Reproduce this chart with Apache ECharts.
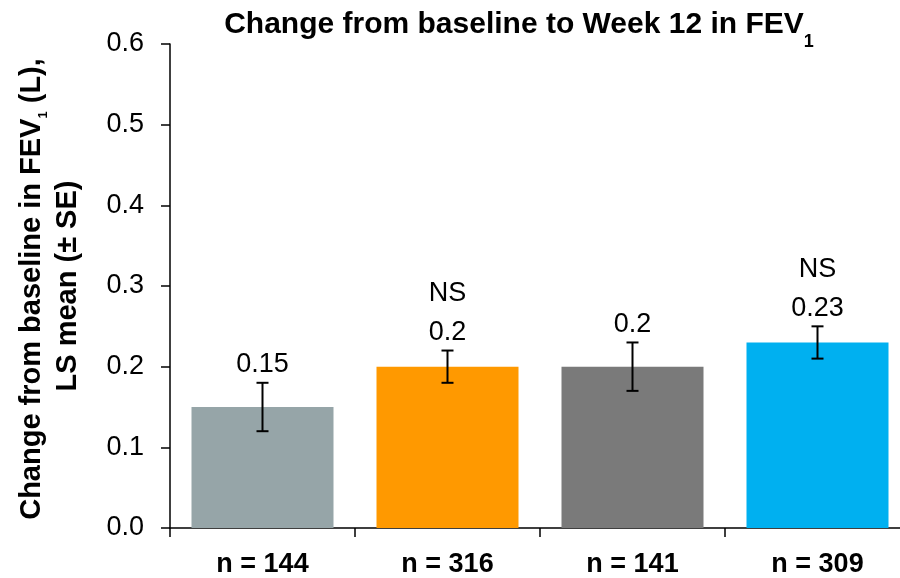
<!DOCTYPE html>
<html>
<head>
<meta charset="utf-8">
<script src="https://cdn.jsdelivr.net/npm/echarts@6/dist/echarts.min.js"></script>
<style>html,body{margin:0;padding:0;background:#fff;overflow:hidden;}#chart{width:910px;height:578px;}</style>
</head>
<body>
<div id="chart"></div>
<script>
const categories = ['n = 144', 'n = 316', 'n = 141', 'n = 309'];
const means = [0.15, 0.2, 0.2, 0.23];
const seLow = [0.12, 0.18, 0.17, 0.21];
const seHigh = [0.18, 0.22, 0.23, 0.25];
const valueLabels = ['0.15', '0.2', '0.2', '0.23'];
const notes = ['', 'NS', '', 'NS'];
const barColors = ['#96A5A8', '#FF9900', '#7A7A7A', '#00B0F0'];
const yMin = 0, yMax = 0.6, yStep = 0.1;

const FONT = '"Liberation Sans", Arial, sans-serif';
const chart = echarts.init(document.getElementById('chart'));

const option = {
  animation: false,
  backgroundColor: '#fff',
  title: {
    text: 'Change from baseline to Week 12 in FEV{sub|1}',
    left: 514,
    top: -6,
    textAlign: 'center',
    textStyle: {
      fontFamily: FONT, fontSize: 30, fontWeight: 'bold', color: '#000',
      rich: { sub: { fontFamily: FONT, fontSize: 18, fontWeight: 'bold', color: '#000', padding: [34, 0, 0, 0] } }
    }
  },
  graphic: [
    {
      type: 'text', x: 32, y: 289, rotation: Math.PI / 2,
      style: {
        text: 'Change from baseline in FEV{sub|1} (L),',
        align: 'center', verticalAlign: 'middle',
        font: 'bold 29px ' + FONT, fill: '#000',
        rich: { sub: { fontFamily: FONT, fontSize: 13, fontWeight: 'bold', fill: '#000', padding: [23, 0, 0, 0] } }
      }
    },
    {
      type: 'text', x: 68, y: 286, rotation: Math.PI / 2,
      style: {
        text: 'LS mean (± SE)', align: 'center', verticalAlign: 'middle',
        font: 'bold 29px ' + FONT, fill: '#000'
      }
    }
  ],
  grid: { left: 170, top: 44, right: 0, bottom: 48, containLabel: false },
  xAxis: {
    type: 'category',
    data: categories,
    axisLine: { show: true, lineStyle: { color: '#000', width: 1.5 } },
    axisTick: { show: true, alignWithLabel: false, length: 9, lineStyle: { color: '#000', width: 1.5 } },
    axisLabel: { margin: 23, fontFamily: FONT, fontSize: 27, fontWeight: 'bold', color: '#000' },
    splitLine: { show: false }
  },
  yAxis: {
    type: 'value',
    min: yMin, max: yMax, interval: yStep,
    axisLine: { show: true, lineStyle: { color: '#000', width: 1.5 } },
    axisTick: { show: true, length: 9, lineStyle: { color: '#000', width: 1.5 } },
    axisLabel: { margin: 26, fontFamily: FONT, fontSize: 27, color: '#000', formatter: v => v.toFixed(1) },
    splitLine: { show: false }
  },
  series: [
    {
      type: 'bar',
      data: means,
      barWidth: 142,
      itemStyle: { color: p => barColors[p.dataIndex] },
      z: 2
    },
    {
      type: 'custom',
      data: categories.map((c, i) => [i, seLow[i], seHigh[i]]),
      z: 5,
      renderItem: function (params, api) {
        const i = params.dataIndex;
        const lo = api.coord([api.value(0), api.value(1)]);
        const hi = api.coord([api.value(0), api.value(2)]);
        const x = hi[0];
        const cap = 6;
        const ls = { stroke: '#000', lineWidth: 2 };
        const children = [
          { type: 'line', shape: { x1: x, y1: lo[1], x2: x, y2: hi[1] }, style: ls },
          { type: 'line', shape: { x1: x - cap, y1: hi[1], x2: x + cap, y2: hi[1] }, style: ls },
          { type: 'line', shape: { x1: x - cap, y1: lo[1], x2: x + cap, y2: lo[1] }, style: ls },
          { type: 'text', style: { text: valueLabels[i], x: x, y: hi[1] - 18, align: 'center', verticalAlign: 'middle', font: '27px ' + FONT, fill: '#000' } }
        ];
        if (notes[i]) {
          children.push({ type: 'text', style: { text: notes[i], x: x, y: hi[1] - 57, align: 'center', verticalAlign: 'middle', font: '27px ' + FONT, fill: '#000' } });
        }
        return { type: 'group', children: children };
      }
    }
  ]
};
chart.setOption(option);
</script>
</body>
</html>
